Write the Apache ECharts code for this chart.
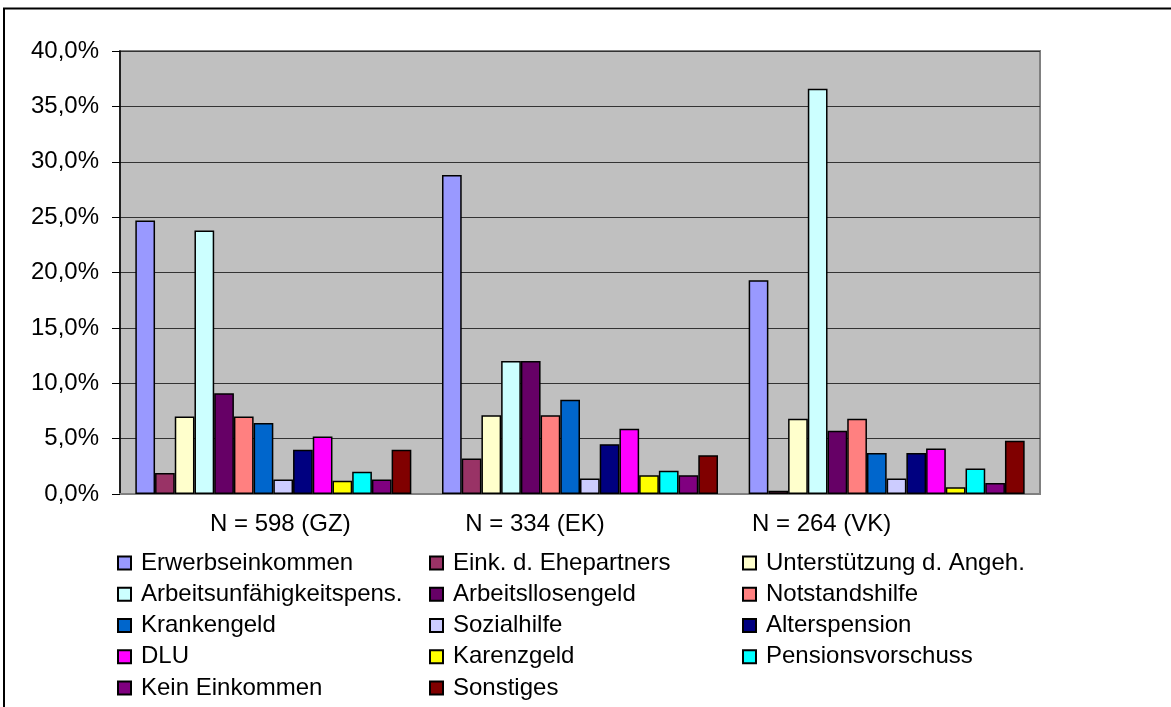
<!DOCTYPE html>
<html>
<head>
<meta charset="utf-8">
<title>Einkommensquellen</title>
<script src="https://cdn.jsdelivr.net/npm/echarts@6/dist/echarts.min.js"></script>
<style>
  html, body { margin: 0; padding: 0; background: #fff; }
  #chart { width: 1171px; height: 707px; }
</style>
</head>
<body>
<div id="chart"></div>
<script>
// Groups (sample sizes) shown along the x axis
const groups = ['N = 598 (GZ)', 'N = 334 (EK)', 'N = 264 (VK)'];

// Income sources, one bar series each
const sources = [
  'Erwerbseinkommen', 'Eink. d. Ehepartners', 'Unterstützung d. Angeh.',
  'Arbeitsunfähigkeitspens.', 'Arbeitsllosengeld', 'Notstandshilfe',
  'Krankengeld', 'Sozialhilfe', 'Alterspension',
  'DLU', 'Karenzgeld', 'Pensionsvorschuss',
  'Kein Einkommen', 'Sonstiges'
];

// Shares in percent per group (GZ, EK, VK)
const erwerbseinkommen   = [24.7, 28.8, 19.3];
const ehepartner         = [1.9, 3.2, 0.3];
const unterstuetzung     = [7.0, 7.1, 6.8];
const arbeitsunfaehig    = [23.8, 12.0, 36.6];
const arbeitslosengeld   = [9.1, 12.0, 5.7];
const notstandshilfe     = [7.0, 7.1, 6.8];
const krankengeld        = [6.4, 8.5, 3.7];
const sozialhilfe        = [1.3, 1.4, 1.4];
const alterspension      = [4.0, 4.5, 3.7];
const dlu                = [5.2, 5.9, 4.1];
const karenzgeld         = [1.2, 1.7, 0.6];
const pensionsvorschuss  = [2.0, 2.1, 2.3];
const keinEinkommen      = [1.3, 1.7, 1.0];
const sonstiges          = [4.0, 3.5, 4.8];

const values = [
  erwerbseinkommen, ehepartner, unterstuetzung, arbeitsunfaehig,
  arbeitslosengeld, notstandshilfe, krankengeld, sozialhilfe,
  alterspension, dlu, karenzgeld, pensionsvorschuss, keinEinkommen, sonstiges
];

// Y axis ticks
const yMin = 0, yMax = 40, yStep = 5;

const palette = [
  '#9999FF', '#993366', '#FFFFCC', '#CCFFFF', '#660066', '#FF8080', '#0066CC',
  '#CCCCFF', '#000080', '#FF00FF', '#FFFF00', '#00FFFF', '#800080', '#800000'
];

const FONT = '"Liberation Sans", Arial, sans-serif';
const FS = 24;

const chart = echarts.init(document.getElementById('chart'), null, { renderer: 'canvas' });

const series = sources.map((name, i) => ({
  name: name,
  type: 'bar',
  data: values[i],
  barGap: '0%',
  barCategoryGap: '10%',
  itemStyle: { color: palette[i], borderColor: '#000', borderWidth: 1.5 },
  emphasis: { disabled: true },
  animation: false
}));

// Legend laid out in three columns, filled row by row
const colX = [117, 429, 742];
const legends = colX.map((x, c) => ({
  orient: 'vertical',
  left: x,
  top: 551,
  padding: 0,
  itemWidth: 13,
  itemHeight: 13,
  itemGap: 7.25,
  icon: 'rect',
  selectedMode: false,
  textStyle: { fontFamily: FONT, fontSize: FS, lineHeight: 24, color: '#000', padding: [0, 0, 0, 5] },
  data: sources.filter((_, i) => i % 3 === c)
}));

// Horizontal nudges for the category captions: [left pad, right pad]
const labelPad = [[14, 0], [0, 90], [0, 130]];

const rich = {};
labelPad.forEach((p, i) => {
  rich['c' + i] = { fontSize: FS, fontFamily: FONT, color: '#000', padding: [0, p[1], 0, p[0]] };
});

chart.setOption({
  backgroundColor: '#fff',
  animation: false,
  textStyle: { fontFamily: FONT },
  grid: {
    left: 120, right: 131, top: 51, bottom: 213,
    show: true,
    backgroundColor: '#C0C0C0',
    borderColor: '#808080',
    borderWidth: 2
  },
  legend: legends,
  xAxis: {
    type: 'category',
    data: groups,
    axisLine: { show: true, lineStyle: { color: '#808080', width: 2 } },
    axisTick: { show: false },
    axisLabel: {
      margin: 18,
      fontSize: FS,
      color: '#000',
      fontFamily: FONT,
      formatter: (v, idx) => '{c' + idx + '|' + v + '}',
      rich: rich
    },
    splitLine: { show: false }
  },
  yAxis: {
    type: 'value',
    min: yMin, max: yMax, interval: yStep,
    axisLine: { show: true, lineStyle: { color: '#000', width: 1.5 } },
    axisTick: { show: true, inside: false, length: 8, lineStyle: { color: '#000', width: 1 } },
    axisLabel: {
      margin: 21,
      fontSize: FS,
      color: '#000',
      fontFamily: FONT,
      formatter: v => v.toFixed(1).replace('.', ',') + '%'
    },
    splitLine: { show: true, lineStyle: { color: '#333', width: 1 } }
  },
  graphic: [{
    type: 'rect',
    silent: true,
    shape: { x: 4, y: 8.5, width: 1400, height: 1000 },
    style: { fill: 'none', stroke: '#000', lineWidth: 2 },
    z: 100
  }],
  series: series
});
</script>
</body>
</html>
